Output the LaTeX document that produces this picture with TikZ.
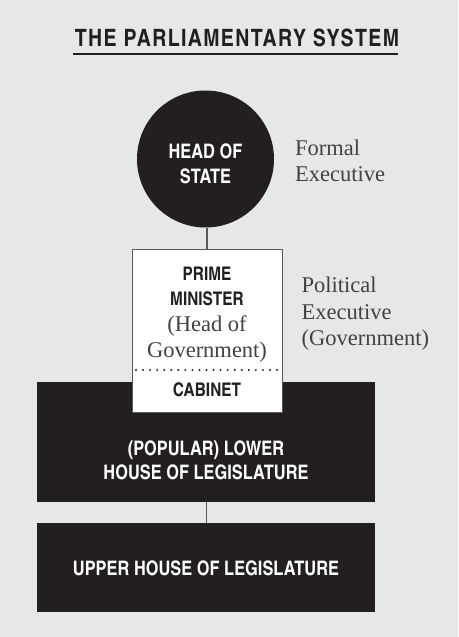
\documentclass[tikz,border=0pt]{standalone}
\usepackage{fontspec}
\setmainfont{Liberation Serif}
\newfontfamily\cond{texgyreheroscn}[Extension=.otf, UprightFont=*-regular, BoldFont=*-bold]
\newfontfamily\condspaced{texgyreheroscn}[Extension=.otf, UprightFont=*-regular, BoldFont=*-bold, LetterSpace=5.6]
\definecolor{panel}{HTML}{E6E7E8}
\definecolor{ink}{HTML}{231F20}
\definecolor{rulegray}{HTML}{58595B}
\tikzset{
  caps/.style={font=\cond\bfseries\fontsize{20}{24}\selectfont, inner sep=0pt, anchor=base},
  capswhite/.style={caps, text=white},
  capsdark/.style={caps, text=ink, font=\cond\bfseries\fontsize{18.8}{22}\selectfont},
  note/.style={font=\fontsize{22.5}{26}\selectfont, text=ink!85, inner sep=0pt, anchor=base west},
  inbox/.style={font=\fontsize{22.5}{26}\selectfont, text=ink!85, inner sep=0pt, anchor=base},
  darkbox/.style={draw=none, fill=ink, rectangle, inner sep=0pt, minimum width=338pt},
  link/.style={draw=rulegray, line width=1.3pt}
}
\begin{document}
\begin{tikzpicture}[x=1pt, y=-1pt]
  % panel
  \fill[panel] (0,0) rectangle (458,637);
  \useasboundingbox (0,0) rectangle (458,637);

  % heading
  \node[font=\condspaced\bfseries\fontsize{23.9}{28}\selectfont, text=ink, inner sep=0pt, anchor=base] (title) at (237,46.5) {THE PARLIAMENTARY SYSTEM};
  \coordinate (ulA) at (73,54);
  \coordinate (ulB) at (398,54);
  \draw[ink, line width=1.3pt] (ulA) -- (ulB);

  % head of state
  \node[circle, fill=ink, minimum size=137pt, inner sep=0pt] (hos) at (205.5,159) {};
  \node[capswhite] (hosA) at (205.5,158) {HEAD OF};
  \node[capswhite] (hosB) at (205.5,183) {STATE};
  \node[note] (formA) at (295,155) {Formal};
  \node[note] (formB) at (295,181) {Executive};

  % legislature
  \node[darkbox, minimum height=120pt] (lower) at (206,442) {};
  \node[darkbox, minimum height=89pt] (upper) at (206,567.5) {};
  \draw[link] (206.7,502) -- (206.7,523);

  % prime minister and cabinet
  \node[rectangle, draw=rulegray, line width=1pt, fill=white, minimum width=150pt, minimum height=163pt, inner sep=0pt] (pm) at (207,330.5) {};
  \draw[link] (hos.south -| pm.north) -- (pm.north);
  \node[capsdark] (pmA) at (207,280) {PRIME};
  \node[capsdark] (pmB) at (207,305) {MINISTER};
  \node[inbox] (pmC) at (207,331) {(Head of};
  \node[inbox] (pmD) at (207,357) {Government)};
  \coordinate (dotA) at (136,370);
  \coordinate (dotB) at (278,370);
  \draw[ink, line width=2.2pt, line cap=round, dash pattern=on 0pt off 7.05pt] (dotA) -- (dotB);
  \node[capsdark] (cab) at (207,396) {CABINET};
  \node[note] (polA) at (301.5,292) {Political};
  \node[note] (polB) at (301.5,319) {Executive};
  \node[note] (polC) at (301.5,345) {(Government)};

  % legislature labels
  \node[capswhite] (lowA) at (206,455) {(POPULAR) LOWER};
  \node[capswhite] (lowB) at (206,479.5) {HOUSE OF LEGISLATURE};
  \node[capswhite] (upA) at (206,575) {UPPER HOUSE OF LEGISLATURE};
\end{tikzpicture}
\end{document}
